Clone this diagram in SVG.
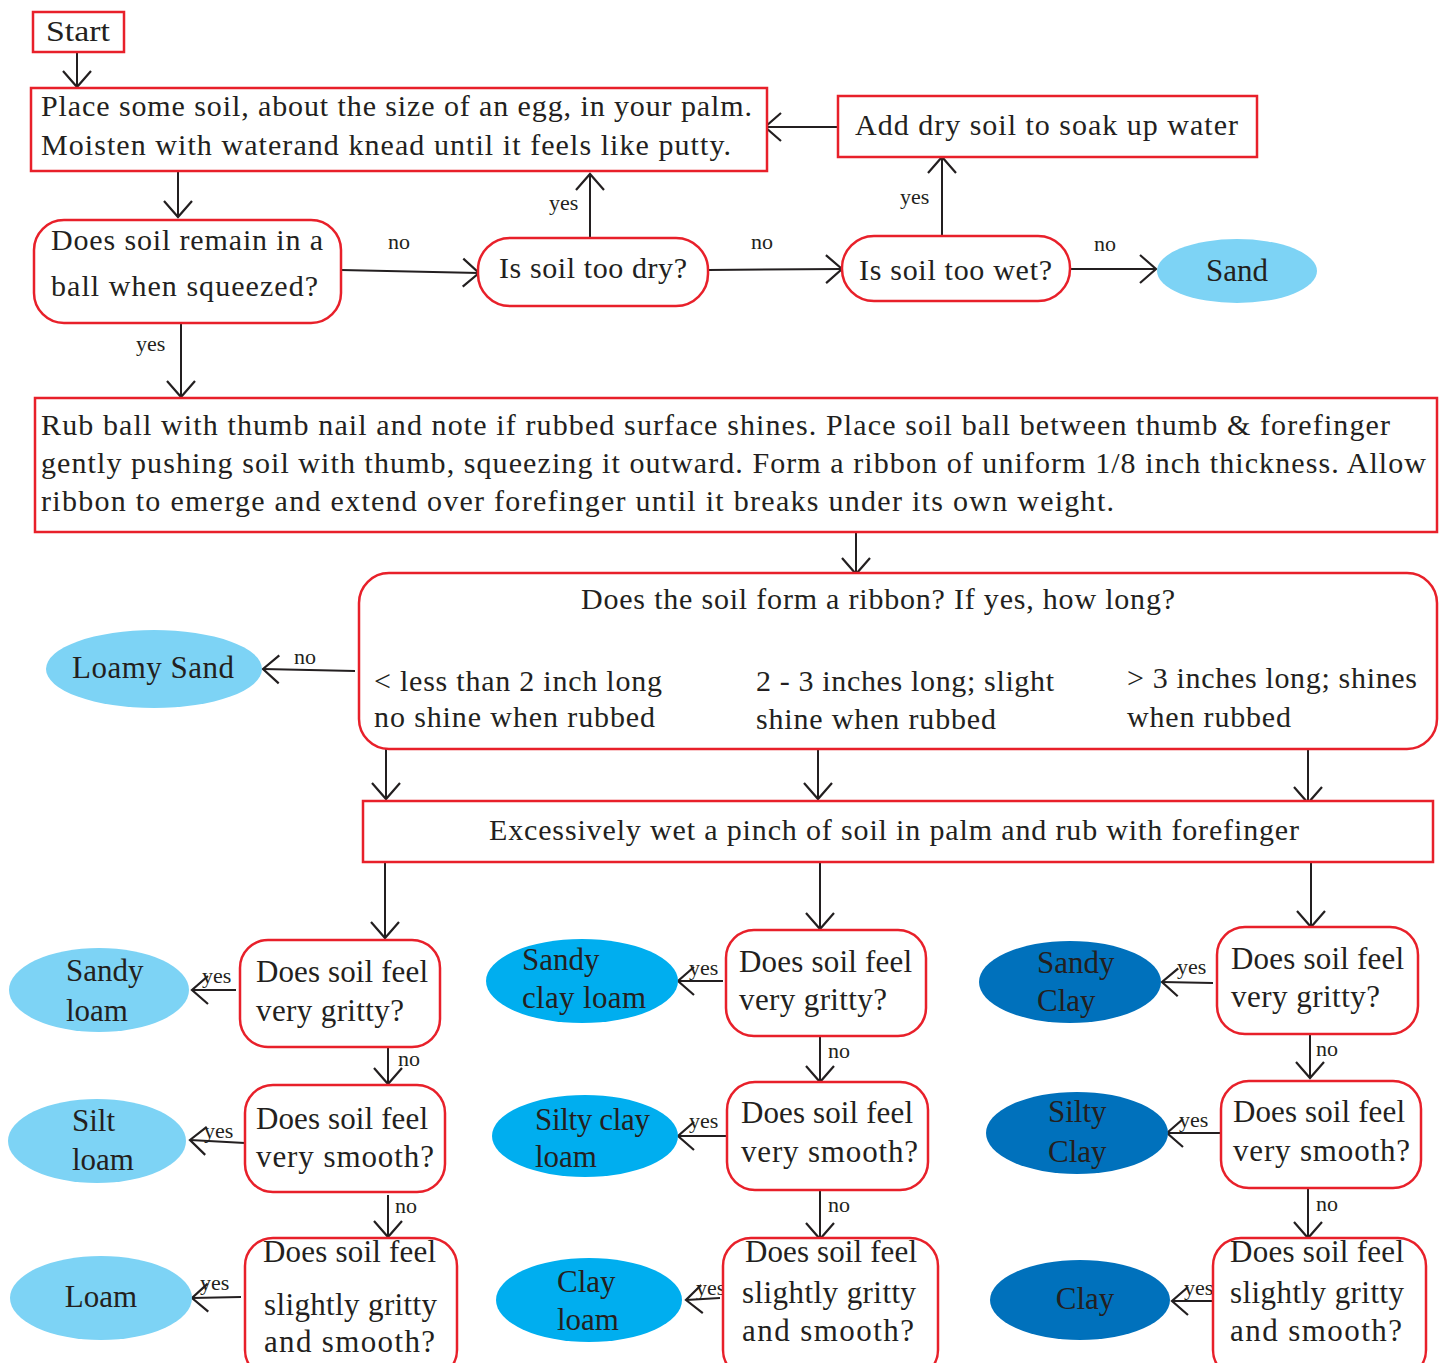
<svg xmlns="http://www.w3.org/2000/svg" width="1442" height="1363" viewBox="0 0 1442 1363">
<defs>
<marker id="ah" markerUnits="userSpaceOnUse" markerWidth="22" markerHeight="34" viewBox="0 0 22 34" refX="19" refY="17" orient="auto">
<path d="M3,3 L19,17 L3,31" fill="none" stroke="#231f20" stroke-width="2.2"/>
</marker>
<style>
.box{fill:#fff;stroke:#e8202a;stroke-width:2.5}
.t{font-family:"Liberation Serif","Times New Roman",serif;font-size:30px;fill:#231f20}
.q{font-size:31px}
.e{font-size:31px}
.lbl{font-family:"Liberation Serif","Times New Roman",serif;font-size:22px;fill:#231f20}
.sl{font-size:22px}
.c{stroke:#231f20;stroke-width:2;fill:none;marker-end:url(#ah)}
.lb{fill:#7dd3f5}
.mb{fill:#00aeef}
.db{fill:#0071bc}
</style>
</defs>
<rect width="1442" height="1363" fill="#fff"/>

<g id="connectors">
<line class="c" x1="77" y1="52" x2="77" y2="87"/>
<line class="c" x1="178" y1="172" x2="178" y2="217"/>
<line class="c" x1="341" y1="270" x2="479" y2="273"/>
<line class="c" x1="590" y1="237" x2="590" y2="174"/>
<line class="c" x1="708" y1="270" x2="842" y2="269"/>
<line class="c" x1="942" y1="236" x2="942" y2="157"/>
<line class="c" x1="855" y1="127" x2="765" y2="127"/>
<line class="c" x1="1070" y1="269" x2="1156" y2="269"/>
<line class="c" x1="181" y1="323" x2="181" y2="397"/>
<line class="c" x1="856" y1="533" x2="856" y2="574"/>
<line class="c" x1="355" y1="671" x2="263" y2="669"/>
<line class="c" x1="386" y1="733" x2="386" y2="799"/>
<line class="c" x1="818" y1="739" x2="818" y2="799"/>
<line class="c" x1="1308" y1="733" x2="1308" y2="803"/>
<line class="c" x1="385" y1="862" x2="385" y2="938"/>
<line class="c" x1="820" y1="862" x2="820" y2="929"/>
<line class="c" x1="1311" y1="862" x2="1311" y2="927"/>
<line class="c" x1="236" y1="990" x2="192" y2="990"/>
<line class="c" x1="388" y1="1045" x2="388" y2="1084"/>
<line class="c" x1="245" y1="1143" x2="190" y2="1140"/>
<line class="c" x1="388" y1="1195" x2="388" y2="1237"/>
<line class="c" x1="241" y1="1297" x2="192" y2="1298"/>
<line class="c" x1="723" y1="981" x2="678" y2="981"/>
<line class="c" x1="820" y1="1036" x2="820" y2="1082"/>
<line class="c" x1="731" y1="1136" x2="678" y2="1136"/>
<line class="c" x1="820" y1="1190" x2="820" y2="1239"/>
<line class="c" x1="720" y1="1298" x2="686" y2="1300"/>
<line class="c" x1="1213" y1="983" x2="1162" y2="982"/>
<line class="c" x1="1310" y1="1034" x2="1310" y2="1078"/>
<line class="c" x1="1224" y1="1133" x2="1167" y2="1133"/>
<line class="c" x1="1308" y1="1189" x2="1308" y2="1238"/>
<line class="c" x1="1215" y1="1301" x2="1172" y2="1301"/>
</g>

<g id="edge-labels">
<text class="lbl" x="388" y="249">no</text>
<text class="lbl" x="549" y="210">yes</text>
<text class="lbl" x="751" y="249">no</text>
<text class="lbl" x="900" y="204">yes</text>
<text class="lbl" x="1094" y="251">no</text>
<text class="lbl" x="136" y="351">yes</text>
<text class="lbl" x="294" y="664">no</text>
<text class="lbl sl" x="202" y="983">yes</text>
<text class="lbl sl" x="398" y="1066">no</text>
<text class="lbl sl" x="204" y="1138">yes</text>
<text class="lbl sl" x="395" y="1213">no</text>
<text class="lbl sl" x="200" y="1290">yes</text>
<text class="lbl sl" x="689" y="975">yes</text>
<text class="lbl sl" x="828" y="1058">no</text>
<text class="lbl sl" x="689" y="1128">yes</text>
<text class="lbl sl" x="828" y="1212">no</text>
<text class="lbl sl" x="696" y="1295">yes</text>
<text class="lbl sl" x="1177" y="974">yes</text>
<text class="lbl sl" x="1316" y="1056">no</text>
<text class="lbl sl" x="1179" y="1127">yes</text>
<text class="lbl sl" x="1316" y="1211">no</text>
<text class="lbl sl" x="1184" y="1295">yes</text>
</g>

<g id="start">
<rect class="box" x="33" y="12" width="91" height="40"/>
<text class="t" x="46" y="41" textLength="64" lengthAdjust="spacingAndGlyphs">Start</text>
</g>

<g id="place-soil">
<rect class="box" x="31" y="88" width="736" height="83"/>
<text class="t" x="41" y="116" textLength="711" lengthAdjust="spacing">Place some  soil, about  the  size of an egg, in your palm.</text>
<text class="t" x="41" y="155" textLength="690" lengthAdjust="spacing">Moisten with waterand  knead  until it feels like putty.</text>
</g>

<g id="add-dry-soil">
<rect class="box" x="838" y="96" width="419" height="61"/>
<text class="t" x="855" y="135" textLength="383" lengthAdjust="spacing">Add dry soil to soak up water</text>
</g>

<g id="remain-ball">
<rect class="box" x="34" y="220" width="307" height="103" rx="30"/>
<text class="t" x="51" y="250" textLength="272" lengthAdjust="spacing">Does soil remain  in a</text>
<text class="t" x="51" y="296" textLength="267" lengthAdjust="spacing">ball when  squeezed?</text>
</g>

<g id="too-dry">
<rect class="box" x="478" y="238" width="230" height="68" rx="32"/>
<text class="t" x="499" y="278" textLength="188" lengthAdjust="spacing">Is soil too  dry?</text>
</g>

<g id="too-wet">
<rect class="box" x="842" y="236" width="228" height="65" rx="32"/>
<text class="t" x="859" y="280" textLength="193" lengthAdjust="spacing">Is soil too  wet?</text>
</g>

<g id="sand">
<ellipse class="lb" cx="1237" cy="271" rx="80" ry="32"/>
<text class="t e" x="1237" y="281" text-anchor="middle">Sand</text>
</g>

<g id="rub-ball">
<rect class="box" x="35" y="398" width="1402" height="134"/>
<text class="t" x="41" y="435" textLength="1349" lengthAdjust="spacing">Rub ball with thumb  nail and  note  if rubbed  surface  shines. Place soil ball between thumb  &amp; forefinger</text>
<text class="t" x="41" y="473" textLength="1385" lengthAdjust="spacing">gently  pushing  soil with thumb, squeezing  it outward. Form a ribbon  of uniform  1/8 inch thickness. Allow</text>
<text class="t" x="41" y="511" textLength="1073" lengthAdjust="spacing">ribbon  to emerge  and extend  over forefinger until it breaks under  its own  weight.</text>
</g>

<g id="ribbon">
<rect class="box" x="359" y="573" width="1078" height="176" rx="30"/>
<text class="t" x="581" y="609" textLength="594" lengthAdjust="spacing">Does the  soil form a ribbon?  If yes, how  long?</text>
<text class="t" x="374" y="691" textLength="288" lengthAdjust="spacing">&lt; less than 2 inch long</text>
<text class="t" x="374" y="727" textLength="281" lengthAdjust="spacing">no shine when rubbed</text>
<text class="t" x="756" y="691" textLength="298" lengthAdjust="spacing">2 - 3 inches long; slight</text>
<text class="t" x="756" y="729" textLength="240" lengthAdjust="spacing">shine when rubbed</text>
<text class="t" x="1127" y="688" textLength="290" lengthAdjust="spacing">&gt; 3 inches long; shines</text>
<text class="t" x="1127" y="727" textLength="164" lengthAdjust="spacing">when rubbed</text>
</g>

<g id="loamy-sand">
<ellipse class="lb" cx="154" cy="669" rx="108" ry="39"/>
<text class="t e" x="72" y="678" textLength="162" lengthAdjust="spacing">Loamy Sand</text>
</g>

<g id="excessively-wet">
<rect class="box" x="363" y="801" width="1070" height="61"/>
<text class="t" x="489" y="840" textLength="810" lengthAdjust="spacing">Excessively  wet  a pinch  of soil in palm  and  rub  with forefinger</text>
</g>

<g id="q1-gritty">
<rect class="box" x="240" y="940" width="200" height="107" rx="28"/>
<text class="t q" x="256" y="982" textLength="172" lengthAdjust="spacing">Does soil feel</text>
<text class="t q" x="256" y="1021" textLength="148" lengthAdjust="spacing">very gritty?</text>
</g>
<g id="sandy-loam">
<ellipse class="lb" cx="99" cy="990" rx="90" ry="42"/>
<text class="t e" x="66" y="981">Sandy</text>
<text class="t e" x="66" y="1021">loam</text>
</g>
<g id="q1-smooth">
<rect class="box" x="245" y="1085" width="200" height="107" rx="28"/>
<text class="t q" x="256" y="1129" textLength="172" lengthAdjust="spacing">Does soil feel</text>
<text class="t q" x="256" y="1167" textLength="178" lengthAdjust="spacing">very smooth?</text>
</g>
<g id="silt-loam">
<ellipse class="lb" cx="97" cy="1141" rx="89" ry="42"/>
<text class="t e" x="72" y="1131">Silt</text>
<text class="t e" x="72" y="1170">loam</text>
</g>
<g id="q1-slightly">
<rect class="box" x="245" y="1238" width="212" height="140" rx="28"/>
<text class="t q" x="263" y="1262" textLength="173" lengthAdjust="spacing">Does soil feel</text>
<text class="t q" x="264" y="1315" textLength="173" lengthAdjust="spacing">slightly gritty</text>
<text class="t q" x="264" y="1352" textLength="171" lengthAdjust="spacing">and  smooth?</text>
</g>
<g id="loam">
<ellipse class="lb" cx="101" cy="1298" rx="91" ry="42"/>
<text class="t e" x="101" y="1307" text-anchor="middle">Loam</text>
</g>

<g id="q2-gritty">
<rect class="box" x="726" y="930" width="200" height="106" rx="28"/>
<text class="t q" x="739" y="972" textLength="173" lengthAdjust="spacing">Does soil feel</text>
<text class="t q" x="739" y="1010" textLength="148" lengthAdjust="spacing">very gritty?</text>
</g>
<g id="sandy-clay-loam">
<ellipse class="mb" cx="582" cy="981" rx="96" ry="42"/>
<text class="t e" x="522" y="970">Sandy</text>
<text class="t e" x="522" y="1008" textLength="124" lengthAdjust="spacing">clay loam</text>
</g>
<g id="q2-smooth">
<rect class="box" x="727" y="1082" width="201" height="108" rx="28"/>
<text class="t q" x="741" y="1123" textLength="172" lengthAdjust="spacing">Does soil feel</text>
<text class="t q" x="741" y="1162" textLength="177" lengthAdjust="spacing">very smooth?</text>
</g>
<g id="silty-clay-loam">
<ellipse class="mb" cx="585" cy="1136" rx="93" ry="41"/>
<text class="t e" x="535" y="1130" textLength="115" lengthAdjust="spacing">Silty clay</text>
<text class="t e" x="535" y="1167">loam</text>
</g>
<g id="q2-slightly">
<rect class="box" x="723" y="1238" width="215" height="140" rx="28"/>
<text class="t q" x="745" y="1262" textLength="172" lengthAdjust="spacing">Does soil feel</text>
<text class="t q" x="742" y="1303" textLength="174" lengthAdjust="spacing">slightly gritty</text>
<text class="t q" x="742" y="1341" textLength="172" lengthAdjust="spacing">and  smooth?</text>
</g>
<g id="clay-loam">
<ellipse class="mb" cx="589" cy="1300" rx="93" ry="42"/>
<text class="t e" x="557" y="1292">Clay</text>
<text class="t e" x="557" y="1330">loam</text>
</g>

<g id="q3-gritty">
<rect class="box" x="1217" y="927" width="201" height="107" rx="28"/>
<text class="t q" x="1231" y="969" textLength="173" lengthAdjust="spacing">Does soil feel</text>
<text class="t q" x="1231" y="1007" textLength="149" lengthAdjust="spacing">very gritty?</text>
</g>
<g id="sandy-clay">
<ellipse class="db" cx="1070" cy="982" rx="91" ry="41"/>
<text class="t e" x="1037" y="973">Sandy</text>
<text class="t e" x="1037" y="1011">Clay</text>
</g>
<g id="q3-smooth">
<rect class="box" x="1221" y="1081" width="200" height="107" rx="28"/>
<text class="t q" x="1233" y="1122" textLength="172" lengthAdjust="spacing">Does soil feel</text>
<text class="t q" x="1233" y="1161" textLength="177" lengthAdjust="spacing">very smooth?</text>
</g>
<g id="silty-clay">
<ellipse class="db" cx="1077" cy="1133" rx="91" ry="41"/>
<text class="t e" x="1048" y="1122">Silty</text>
<text class="t e" x="1048" y="1162">Clay</text>
</g>
<g id="q3-slightly">
<rect class="box" x="1213" y="1238" width="213" height="140" rx="28"/>
<text class="t q" x="1230" y="1262" textLength="174" lengthAdjust="spacing">Does soil feel</text>
<text class="t q" x="1230" y="1303" textLength="174" lengthAdjust="spacing">slightly gritty</text>
<text class="t q" x="1230" y="1341" textLength="172" lengthAdjust="spacing">and  smooth?</text>
</g>
<g id="clay">
<ellipse class="db" cx="1080" cy="1300" rx="90" ry="40"/>
<text class="t e" x="1085" y="1309" text-anchor="middle">Clay</text>
</g>
</svg>
